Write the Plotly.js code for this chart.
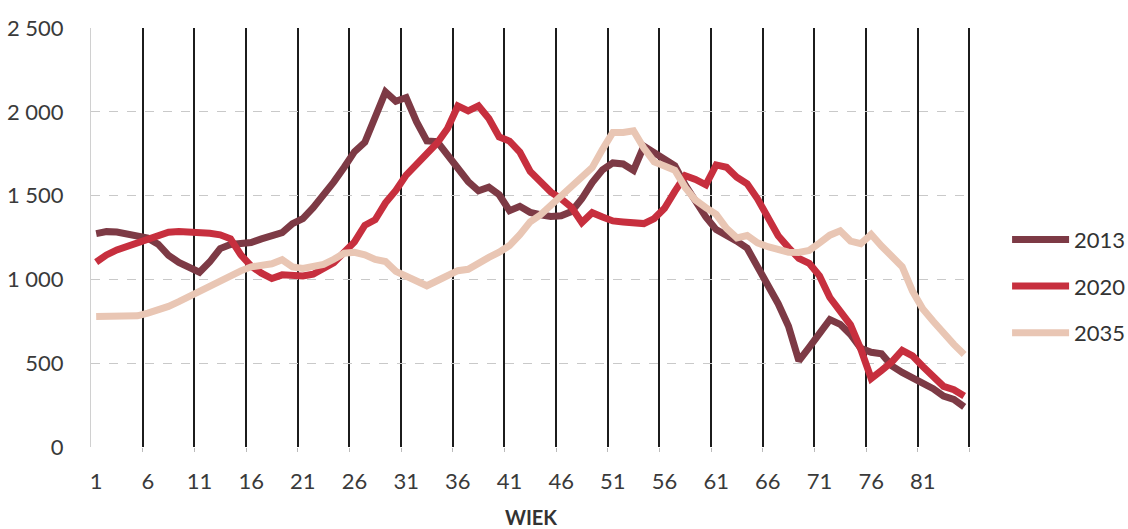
<!DOCTYPE html>
<html>
<head>
<meta charset="utf-8">
<script src="https://cdn.plot.ly/plotly-3.0.1.min.js"></script>
<style>
  html, body { margin: 0; padding: 0; background: #ffffff; }
  #chart { width: 1128px; height: 529px; }
</style>
</head>
<body>
<div id="chart"></div>
<script>
// Age categories (WIEK) 1..85
const ages = [];
for (let a = 1; a <= 85; a++) ages.push(a);

const seriesNames = ['2013', '2020', '2035'];

const s2013 = [1273,1285,1283,1273,1260,1246,1210,1144,1101,1071,
               1043,1105,1184,1208,1210,1220,1242,1260,1279,1333,
               1363,1428,1500,1582,1669,1762,1818,1960,2119,2063,
               2085,1941,1826,1822,1743,1663,1584,1529,1550,1505,
               1410,1436,1400,1386,1376,1380,1405,1481,1578,1654,
               1695,1689,1650,1795,1758,1719,1679,1564,1461,1372,
               1297,1267,1228,1186,1075,948,855,720,514,595,
               676,760,732,672,589,565,556,484,445,415,
               383,348,304,284,239];

const s2020 = [1103,1146,1176,1198,1220,1248,1268,1281,1285,1285,
               1283,1275,1266,1242,1146,1079,1037,1005,1027,1025,
               1021,1031,1061,1100,1162,1224,1323,1356,1457,1531,
               1622,1683,1753,1814,1900,2035,2005,2035,1960,1850,
               1825,1760,1644,1582,1521,1481,1430,1339,1398,1372,
               1349,1343,1333,1333,1363,1424,1525,1618,1596,1564,
               1683,1669,1610,1570,1481,1360,1260,1190,1125,1096,
               1021,892,809,729,583,409,457,508,576,544,
               480,417,362,342,304];

const s2035 = [779,781,777,777,783,799,817,839,867,899,
               929,961,990,1020,1051,1075,1081,1093,1117,1075,
               1065,1077,1089,1120,1156,1162,1147,1119,1107,1048,
               1018,996,962,992,1024,1052,1060,1099,1131,1162,
               1202,1267,1343,1385,1444,1499,1560,1616,1667,1776,
               1877,1877,1887,1784,1701,1677,1651,1549,1473,1428,
               1388,1305,1248,1262,1218,1195,1180,1162,1161,1173,
               1217,1264,1290,1229,1213,1268,1199,1138,1076,930,
               823,750,675,612,552];

const xTickVals = [1,6,11,16,21,26,31,36,41,46,51,56,61,66,71,76,81];
const xTickText = xTickVals.map(String);
const yTickVals = [0,500,1000,1500,2000,2500];

// category boundaries every 5 categories (between-tick-marks style)
const gridVals = [];
for (let b = 5; b <= ages.length; b += 5) gridVals.push(b + 0.5);

const colors = ['#7d3a45', '#c72f3e', '#e9c6b4'];
const seriesData = [s2013, s2020, s2035];

const traces = seriesNames.map((name, i) => ({
  type: 'scatter',
  mode: 'lines',
  name: name,
  legendgroup: name,
  x: ages,
  y: seriesData[i],
  line: { color: colors[i], width: 7, shape: 'linear' },
  hoverinfo: 'skip'
}));

const FONT = 'Lato, "Open Sans", sans-serif';

const layout = {
  width: 1128,
  height: 529,
  margin: { l: 91, r: 157, t: 28, b: 82, autoexpand: false },
  paper_bgcolor: '#ffffff',
  plot_bgcolor: '#ffffff',
  font: { family: FONT, size: 22, color: '#3a3a3a' },
  showlegend: true,
  legend: {
    x: 1.041, xanchor: 'left',
    y: 0.545, yanchor: 'top',
    font: { family: FONT, size: 22, color: '#333333' },
    traceorder: 'grouped',
    tracegroupgap: 15,
    itemwidth: 57,
    borderwidth: 0,
    bgcolor: 'rgba(0,0,0,0)'
  },
  separators: ', ',
  xaxis: {
    range: [0.5, 85.66],
    tickmode: 'array',
    tickvals: xTickVals,
    ticktext: xTickText,
    showgrid: false,
    zeroline: false,
    showline: false,
    ticks: '',
    ticklabelstandoff: 19,
    tickfont: { family: FONT, size: 22, color: '#3a3a3a' },
    minor: {
      tickmode: 'array',
      tickvals: gridVals,
      showgrid: true,
      gridcolor: '#1c1c1c',
      gridwidth: 2.2,
      ticks: 'outside',
      ticklen: 4,
      tickcolor: '#bbbbbb',
      tickwidth: 1
    },
    title: {
      text: '<b>WIEK</b>',
      font: { family: FONT, size: 20, color: '#333333' },
      standoff: 18
    }
  },
  yaxis: {
    range: [0, 2500],
    tickmode: 'array',
    tickvals: yTickVals,
    tickformat: ',d',
    showgrid: true,
    gridcolor: '#c9c9c9',
    griddash: 'dash',
    gridwidth: 1,
    zeroline: false,
    showline: true,
    linecolor: '#d0d0d0',
    linewidth: 1,
    ticks: '',
    ticklabelstandoff: 22,
    tickfont: { family: FONT, size: 22, color: '#3a3a3a' }
  }
};

Plotly.newPlot('chart', traces, layout, { displayModeBar: false, staticPlot: true });
</script>
</body>
</html>
